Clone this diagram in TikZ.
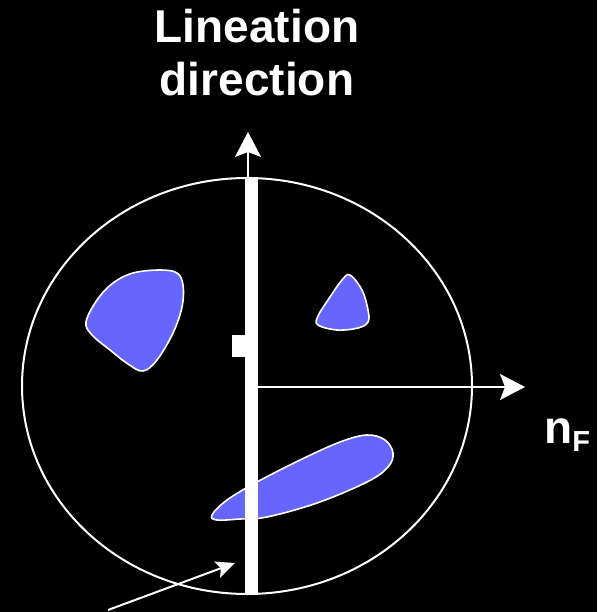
\documentclass[tikz,border=0pt]{standalone}
\usepackage{fontspec}
\setmainfont{Liberation Sans}
\usepackage{tikz}
\usetikzlibrary{arrows.meta,positioning,calc}
\definecolor{blobblue}{HTML}{6666FF}
\tikzset{
  blob/.style={draw=white, line width=1.6pt, fill=blobblue, smooth cycle, tension=0.6},
  arr/.style={-{Stealth[length=25pt, width=26pt, inset=5pt]}, line width=2pt, draw=white},
  smallarr/.style={-{Stealth[length=19pt, width=17pt, inset=4pt]}, line width=2pt, draw=white},
  lbl/.style={text=white, font=\bfseries\fontsize{46}{53}\selectfont, align=center, inner sep=0pt},
}

\begin{document}
\begin{tikzpicture}[x=1pt, y=-1pt]
\fill[black] (0,0) rectangle (597,612);
\useasboundingbox (0,0) rectangle (597,612);
% big circle
\draw[white, line width=2pt] (247,386) ellipse [x radius=225, y radius=208];
% blobs
\draw[blob] plot coordinates {(86,322) (97,300) (113,283) (133,273) (160,270) (177,273) (183,285) (182,307) (173,333) (157,360) (143,371) (128,364) (110,350) (92,335)};
\draw[blob] plot coordinates {(350,275) (362,290) (368,310) (368,322) (358,328) (337,330) (318,325) (318,316) (330,297) (342,280)};
\draw[blob] plot coordinates {(212,515) (227,500) (257,482) (300,460) (340,442) (367,435) (385,440) (393,453) (388,467) (367,482) (317,503) (267,517) (240,519) (217,520)};
% lineation bar
\node[fill=white, inner sep=0pt, minimum width=13pt, minimum height=415pt] (bar) at (251.5,386) {};
\node[fill=white, inner sep=0pt, minimum width=13pt, minimum height=22pt, anchor=north east] (tick) at (bar.west |- 0,335) {};
% axes
\coordinate (top) at (248,132);
\coordinate (nfend) at (525,387);
\draw[arr] (bar.north -| top) -- (top);
\draw[arr] (bar.east |- nfend) -- (nfend);
\node[lbl] (lineation) at (257,53) {Lineation\\direction};
\node[text=white, font=\bfseries\fontsize{46}{53}\selectfont, anchor=base west, inner sep=0pt] (nF) at (544,443) {n\raisebox{-8pt}{\fontsize{29}{29}\selectfont F}};
% pointer to bar
\coordinate (ptail) at (108,610);
\coordinate (phead) at (235,563);
\draw[smallarr] (ptail) -- (phead);
\end{tikzpicture}
\end{document}
